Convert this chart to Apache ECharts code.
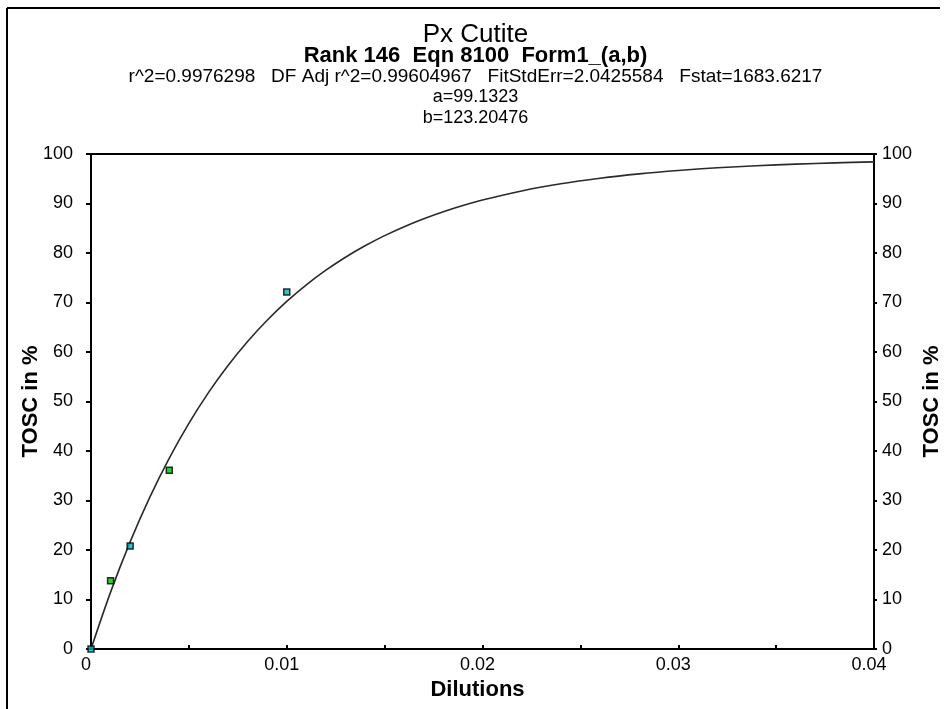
<!DOCTYPE html>
<html>
<head>
<meta charset="utf-8">
<script src="https://cdn.jsdelivr.net/npm/echarts@6/dist/echarts.min.js"></script>
<style>
  html, body { margin: 0; padding: 0; background: #fff; }
  #chart { width: 951px; height: 709px; }
</style>
</head>
<body>
<div id="chart"></div>
<script>
// Measured dilution points
const dilutions = [0, 0.001, 0.002, 0.004, 0.01];
const tosc = [0, 13.8, 20.8, 36.1, 72.1];

// Fitted curve, sampled along the dilution axis
const curveX = [0, 0.001, 0.002, 0.003, 0.004, 0.005, 0.006, 0.007, 0.008, 0.009,
  0.010, 0.011, 0.012, 0.013, 0.014, 0.015, 0.016, 0.017, 0.018, 0.019, 0.020,
  0.022, 0.024, 0.026, 0.028, 0.030, 0.032, 0.034, 0.036, 0.038, 0.040];
const curveY = [0, 11.49, 21.65, 30.63, 38.57, 45.59, 51.80, 57.28, 62.13, 66.42,
  70.21, 73.57, 76.53, 79.15, 81.46, 83.51, 85.32, 86.92, 88.34, 89.59, 90.70,
  92.54, 93.98, 95.10, 95.98, 96.67, 97.21, 97.63, 97.96, 98.21, 98.41];

const yTicks = [0, 10, 20, 30, 40, 50, 60, 70, 80, 90, 100];
const xTicks = [0, 0.01, 0.02, 0.03, 0.04];

const titleLines = [
  'Px Cutite',
  'Rank 146  Eqn 8100  Form1_(a,b)',
  'r^2=0.9976298   DF Adj r^2=0.99604967   FitStdErr=2.0425584   Fstat=1683.6217',
  'a=99.1323',
  'b=123.20476'
];

// marker fill per point
const markerFill = ['#00b4c0', '#00c000', '#00b4c0', '#00c000', '#00b4c0'];

const chart = echarts.init(document.getElementById('chart'));
const FONT = '"Liberation Sans", Arial, sans-serif';

// line centre (y) and font for each heading line
const titleStyles = [
  { cy: 35, fontSize: 26, fontWeight: 'normal' },
  { cy: 56, fontSize: 22, fontWeight: 'bold' },
  { cy: 77, fontSize: 19, fontWeight: 'normal' },
  { cy: 97.5, fontSize: 18, fontWeight: 'normal' },
  { cy: 118, fontSize: 18, fontWeight: 'normal' }
];

const axisLabelStyle = { color: '#000', fontSize: 18, fontFamily: FONT };
const axisNameStyle = { color: '#000', fontSize: 22, fontWeight: 'bold', fontFamily: FONT };

function yAxisDef(pos) {
  return {
    type: 'value',
    position: pos,
    min: yTicks[0],
    max: yTicks[yTicks.length - 1],
    interval: yTicks[1] - yTicks[0],
    name: 'TOSC in %',
    nameLocation: 'middle',
    nameRotate: 90,
    nameMoveOverlap: false,
    nameGap: pos === 'left' ? 49 : 47,
    nameTextStyle: axisNameStyle,
    axisLine: { show: true, lineStyle: { color: '#000', width: 2 } },
    axisTick: { show: true, inside: false, length: pos === 'left' ? 5 : 3, lineStyle: { color: '#000', width: 2 } },
    axisLabel: Object.assign({ margin: pos === 'left' ? 18 : 8 }, axisLabelStyle),
    splitLine: { show: false }
  };
}

chart.setOption({
  animation: false,
  backgroundColor: '#fff',
  title: titleLines.map((t, i) => ({
    text: t,
    left: 'center',
    top: titleStyles[i].cy - 5 - titleStyles[i].fontSize * 0.6,
    textStyle: {
      color: '#000',
      fontFamily: FONT,
      fontSize: titleStyles[i].fontSize,
      fontWeight: titleStyles[i].fontWeight,
      lineHeight: titleStyles[i].fontSize * 1.2
    }
  })),
  grid: {
    left: 91, right: 74, top: 154, bottom: 60,
    show: true, borderColor: '#000', borderWidth: 2, backgroundColor: 'transparent'
  },
  xAxis: {
    type: 'value',
    min: xTicks[0],
    max: xTicks[xTicks.length - 1],
    interval: 0.005,
    name: 'Dilutions',
    nameLocation: 'middle',
    nameMoveOverlap: false,
    nameGap: 30,
    nameTextStyle: Object.assign({ padding: [0, 10, 0, 0] }, axisNameStyle),
    axisLine: { show: true, onZero: false, lineStyle: { color: '#000', width: 2 } },
    axisTick: { show: true, inside: true, length: 4, lineStyle: { color: '#000', width: 2 } },
    axisLabel: Object.assign({
      margin: 7,
      padding: [0, 10, 0, 0],
      formatter: v => {
        const hit = xTicks.find(t => Math.abs(t - v) < 1e-9);
        return hit === undefined ? '' : String(hit);
      }
    }, axisLabelStyle),
    splitLine: { show: false }
  },
  yAxis: [yAxisDef('left'), yAxisDef('right')],
  series: [
    {
      type: 'line',
      data: curveX.map((x, i) => [x, curveY[i]]),
      smooth: 0.3,
      symbol: 'none',
      lineStyle: { color: '#2a2a2a', width: 1.6 },
      z: 2
    },
    {
      type: 'scatter',
      data: dilutions.map((x, i) => ({
        value: [x, tosc[i]],
        itemStyle: { color: markerFill[i] }
      })),
      symbol: 'rect',
      symbolSize: 6,
      itemStyle: { borderColor: '#000', borderWidth: 1.5 },
      z: 3
    }
  ],
  graphic: [
    // outer frame lines (left and top)
    { type: 'line', shape: { x1: 7, y1: 8, x2: 7, y2: 709 }, style: { stroke: '#000', lineWidth: 2 } },
    { type: 'line', shape: { x1: 7, y1: 8, x2: 940, y2: 8 }, style: { stroke: '#000', lineWidth: 2 } }
  ]
});
</script>
</body>
</html>
